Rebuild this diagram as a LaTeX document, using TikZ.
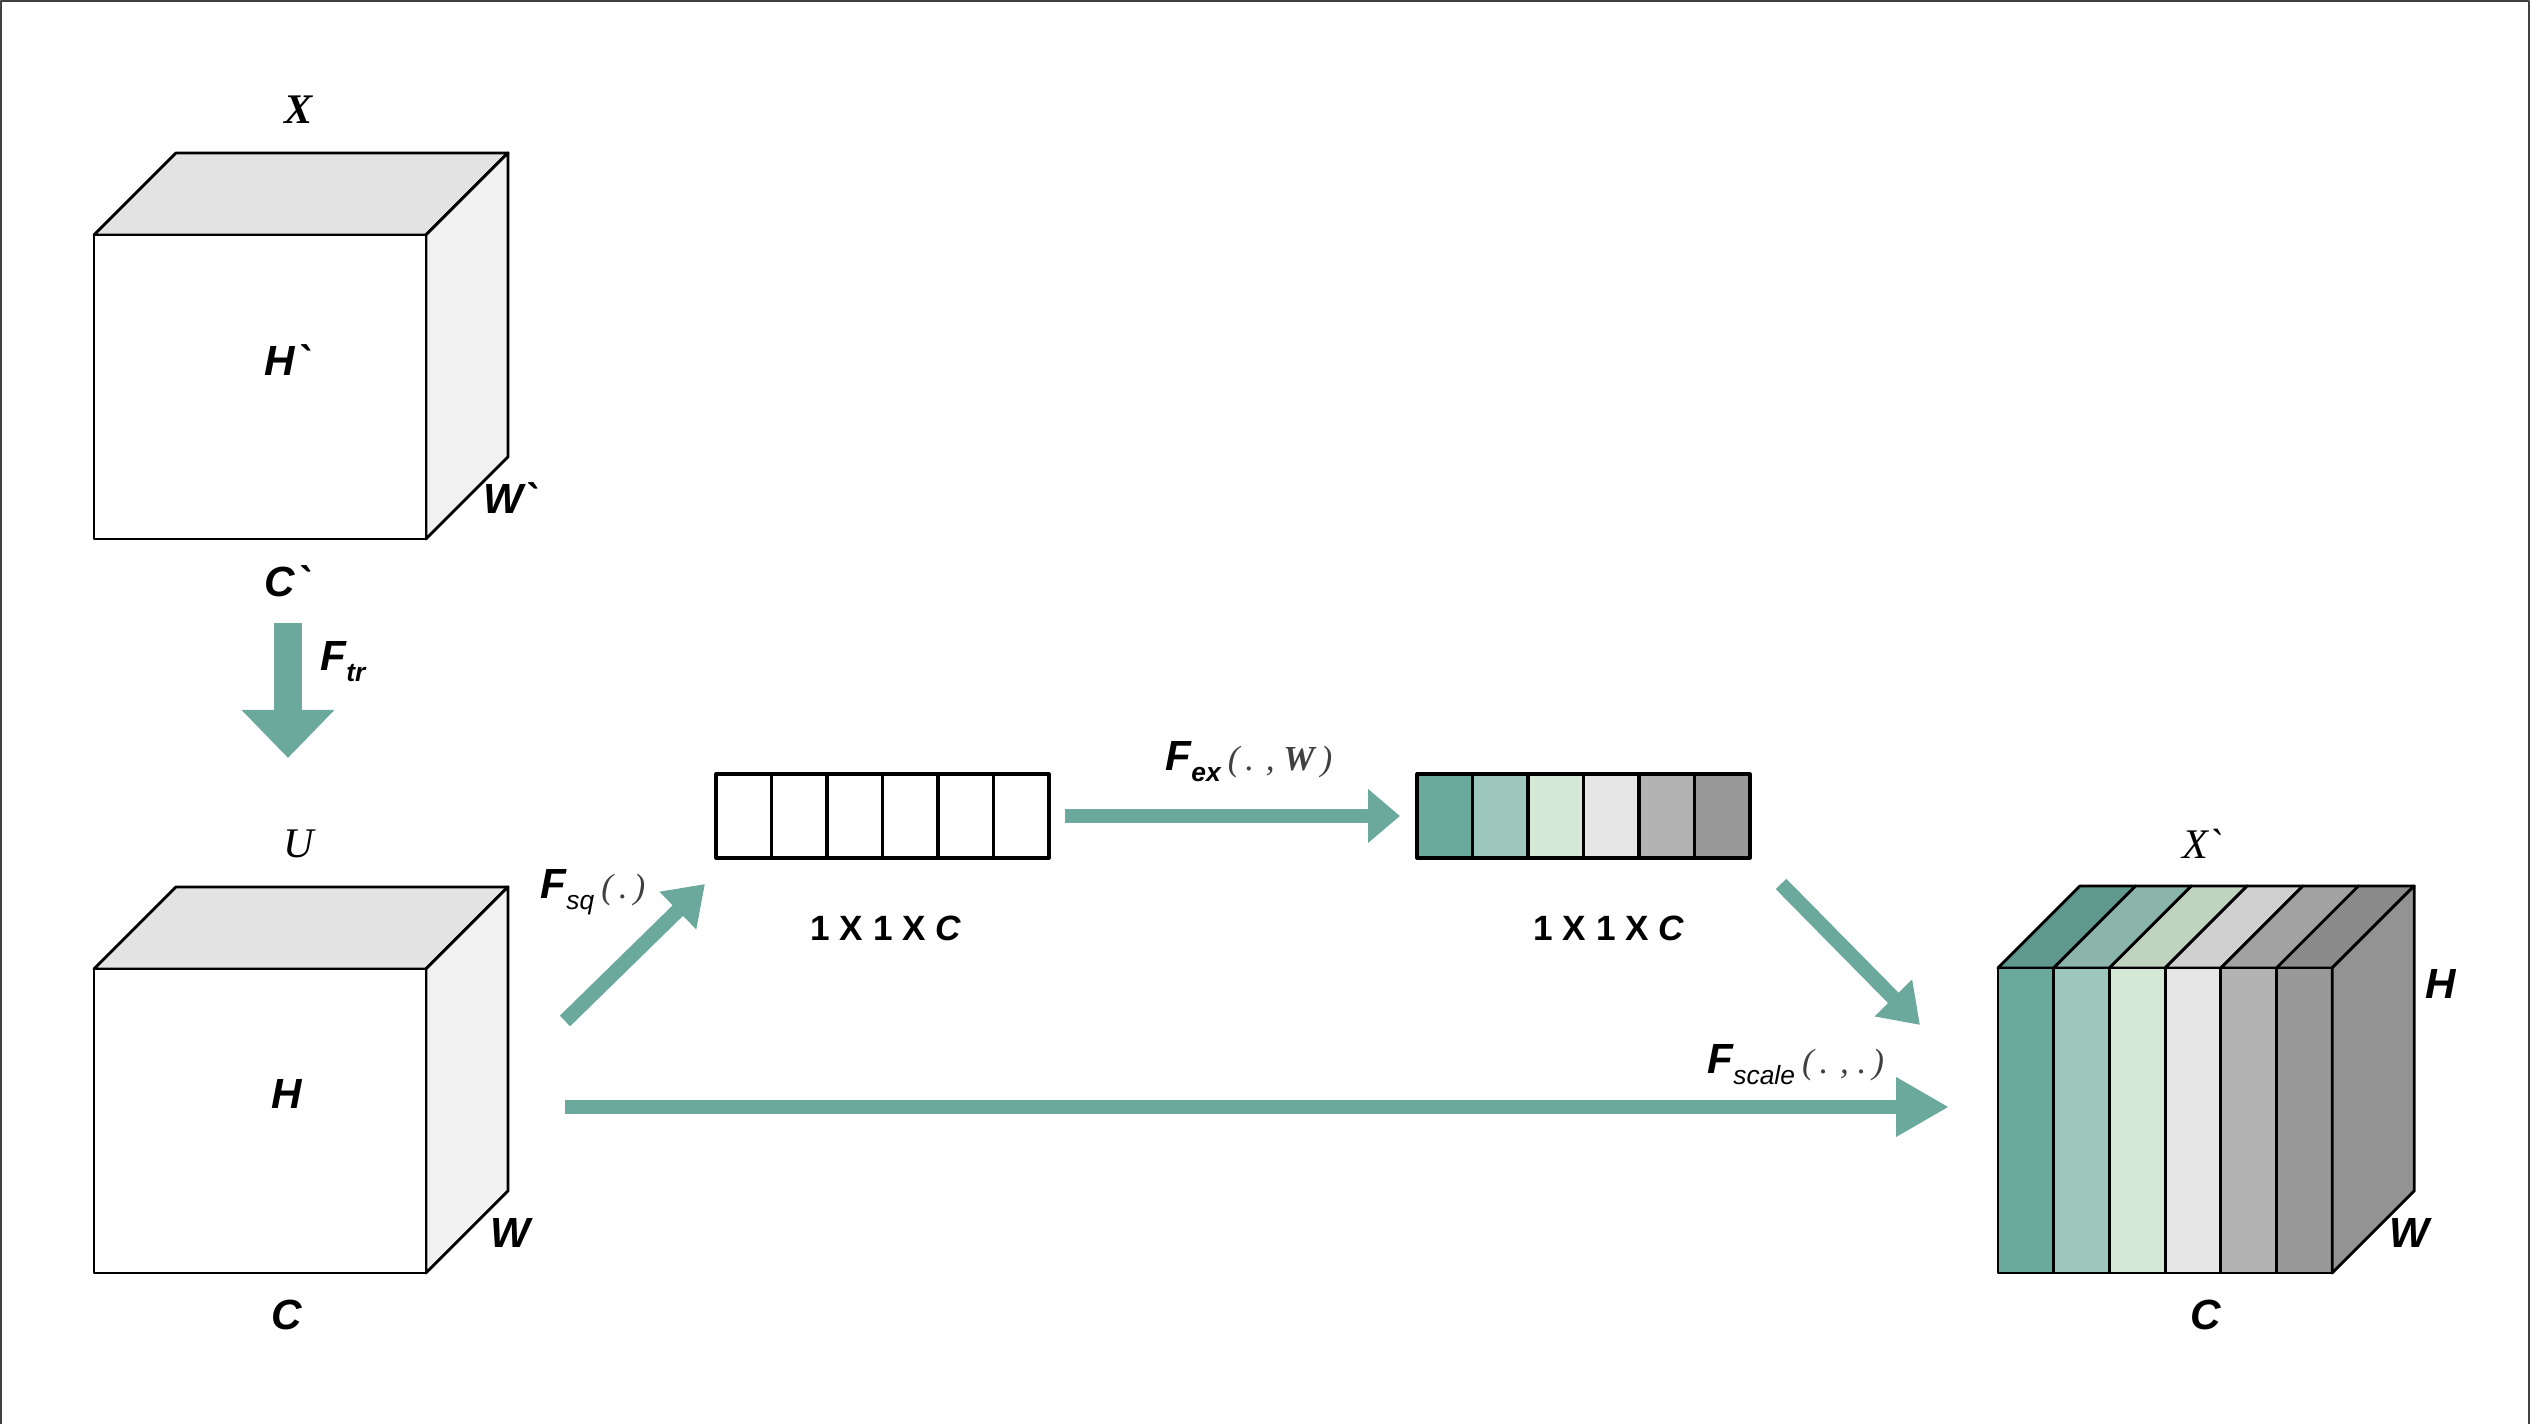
\documentclass[tikz,border=0pt]{standalone}
\usepackage{fontspec}
\setmainfont{Liberation Sans}
\newfontfamily\serifit{Liberation Serif}
\usepackage{tikz}
\usetikzlibrary{arrows.meta,positioning}

\definecolor{flowteal}{HTML}{6AA99C}
\definecolor{topgray}{HTML}{E3E3E3}
\definecolor{sidegray}{HTML}{F2F2F2}
\definecolor{sidedark}{HTML}{939393}
\definecolor{sA}{HTML}{6AAA9D}
\definecolor{sB}{HTML}{9DC7BC}
\definecolor{sC}{HTML}{D5E8D5}
\definecolor{sD}{HTML}{E6E6E6}
\definecolor{sE}{HTML}{B3B3B3}
\definecolor{sF}{HTML}{999999}
\definecolor{tA}{HTML}{5F988D}
\definecolor{tB}{HTML}{8BB4AA}
\definecolor{tC}{HTML}{C0D3BF}
\definecolor{tD}{HTML}{D0D0D0}
\definecolor{tE}{HTML}{A2A2A2}
\definecolor{tF}{HTML}{8A8A8A}

\newcommand{\lblfont}{\fontsize{12}{14}\selectfont\bfseries\itshape}
\newcommand{\namefont}{\fontsize{12}{14}\selectfont\serifit\itshape}
\newcommand{\argfont}{\fontsize{10}{12}\selectfont\serifit\itshape\mdseries\color{black!75}}
\newcommand{\subtxt}[1]{\raisebox{-0.5ex}{\fontsize{7.5}{8}\selectfont\itshape #1}}

\begin{document}
\begin{tikzpicture}[line join=round,
  cubeline/.style={draw=black, line width=0.8pt},
  flow/.style={draw=flowteal, line width=4.2pt},
  lbl/.style={font=\lblfont, inner sep=0pt},
  cell/.style={draw, line width=0.9pt, minimum width=0.555cm, minimum height=0.84cm,
    inner sep=0pt, outer sep=0pt},
  dimlbl/.style={font=\fontsize{10}{12}\selectfont\bfseries, inner sep=0pt}]
\useasboundingbox (0,0) rectangle (25.3,14.24);
\draw[black!75, line width=0.7pt] (0.01,0) -- (0.01,14.23) -- (25.29,14.23) -- (25.29,0);

% input and transformed cubes
\foreach \y in {8.85,1.51} {
  \begin{scope}[shift={(0.94,\y)}]
    \draw[cubeline, fill=topgray] (0,3.04) -- ++(0.82,0.82) -- ++(3.32,0) -- ++(-0.82,-0.82) -- cycle;
    \draw[cubeline, fill=sidegray] (3.32,0) -- ++(0.82,0.82) -- ++(0,3.04) -- ++(-0.82,-0.82) -- cycle;
    \draw[cubeline, fill=white] (0,0) rectangle (3.32,3.04);
  \end{scope}
}
\node[font=\namefont\bfseries] (X) at (2.985,13.14) {X};
\node[lbl] (Hp) at (2.87,10.64) {H\textasciigrave};
\node[lbl] (Wp) at (5.10,9.26) {W\textasciigrave};
\node[lbl] (Cp) at (2.87,8.43) {C\textasciigrave};
\node[font=\namefont] (U) at (2.985,5.80) {U};
\node[lbl] (Hu) at (2.87,3.30) {H};
\node[lbl] (Wu) at (5.10,1.91) {W};
\node[lbl] (Cu) at (2.87,1.09) {C};

% F_tr
\coordinate (trtop) at (2.88,8.01);
\coordinate (trtip) at (2.88,6.66);
\draw[flow, line width=0.28cm, -{Triangle[length=0.48cm,width=0.9cm]}] (trtop) -- (trtip);
\node[lbl, anchor=west] (Ftr) at (3.20,7.62) {F\subtxt{tr}};

% squeeze vector
\node[cell] (e1) at (7.4375,6.08) {};
\foreach \i [evaluate=\i as \j using int(\i-1)] in {2,...,6}
  \node[cell, right=0pt of e\j] (e\i) {};
\node[dimlbl] (dimA) at (8.86,4.96) {1 X 1 X \textit{C}};

% excitation vector
\foreach \c [count=\i] in {sA,sB,sC,sD,sE,sF}
  \node[cell, fill=\c] (c\i) at (14.4475+\i*0.555-0.555,6.08) {};
\node[dimlbl] (dimB) at (16.09,4.96) {1 X 1 X \textit{C}};

% output cube
\begin{scope}[shift={(19.98,1.51)}]
  \foreach \f/\t [count=\i from 0] in {sA/tA,sB/tB,sC/tC,sD/tD,sE/tE,sF/tF} {
    \draw[cubeline, fill=\t] (\i*0.557,3.05) -- ++(0.82,0.82) -- ++(0.557,0) -- ++(-0.82,-0.82) -- cycle;
    \draw[cubeline, fill=\f] (\i*0.557,0) rectangle ++(0.557,3.05);
  }
  \draw[cubeline, fill=sidedark] (3.342,0) -- ++(0.82,0.82) -- ++(0,3.05) -- ++(-0.82,-0.82) -- cycle;
\end{scope}
\node[font=\namefont] (Xp) at (22.02,5.80) {X\textasciigrave};
\node[lbl] (Ho) at (24.41,4.40) {H};
\node[lbl] (Wo) at (24.09,1.91) {W};
\node[lbl] (Co) at (22.06,1.09) {C};

% flows
\coordinate (sqfrom) at (5.65,4.03);
\coordinate (sqto) at (7.05,5.40);
\draw[flow, -{Triangle[length=0.38cm,width=0.5cm]}] (sqfrom) -- (sqto);
\node[lbl, anchor=west] (Fsq) at (5.40,5.32) {F\subtxt{\mdseries sq}\,{\argfont(\,.\,)}};

\draw[flow, shorten <=0.16cm, shorten >=0.17cm, -{Triangle[length=0.32cm,width=0.52cm]}] (e6.east) -- (c1.west);
\node[lbl, anchor=west] (Fex) at (11.65,6.62) {F\subtxt{ex}\,{\argfont(\,. , \textbf{W}\,)}};

\coordinate (exfrom) at (17.81,5.40);
\coordinate (exto) at (19.20,3.99);
\draw[flow, -{Triangle[length=0.38cm,width=0.5cm]}] (exfrom) -- (exto);

\coordinate (scfrom) at (5.65,3.17);
\coordinate (scto) at (19.49,3.17);
\draw[flow, -{Triangle[length=0.53cm,width=0.56cm]}] (scfrom) -- (scto);
\node[lbl, anchor=west] (Fsc) at (17.07,3.59) {F\subtxt{\mdseries scale}\,{\argfont(\,. , .\,)}};
\end{tikzpicture}
\end{document}
